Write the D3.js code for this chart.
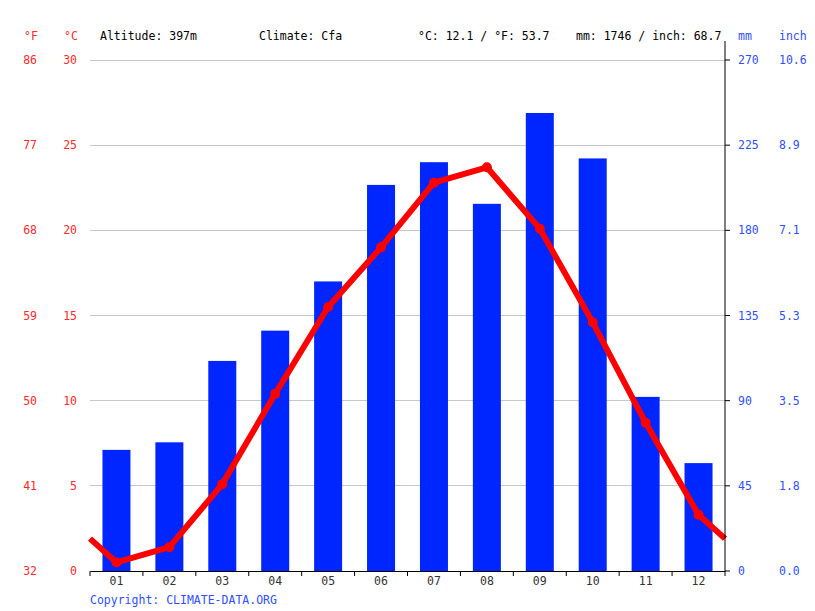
<!DOCTYPE html>
<html><head><meta charset="utf-8">
<script src="https://cdn.jsdelivr.net/npm/d3@7"></script>
<style>body{margin:0;background:#fff}svg text{font-family:"DejaVu Sans Mono",monospace;font-size:11.5px}</style>
</head><body><svg id="c" width="815" height="611"></svg>
<script>
const months = ["01","02","03","04","05","06","07","08","09","10","11","12"];
const precipMm = [64, 68, 111, 127, 153, 204, 216, 194, 242, 218, 92, 57];
const tempC = [0.5, 1.4, 5.1, 10.4, 15.5, 19.0, 22.8, 23.7, 20.1, 14.6, 8.7, 3.3];
const cTicks = [0,5,10,15,20,25,30];
const fTicks = [32,41,50,59,68,77,86];
const mmTicks = [0,45,90,135,180,225,270];
const inchTicks = ["0.0","1.8","3.5","5.3","7.1","8.9","10.6"];
const header = {alt:"Altitude: 397m", clim:"Climate: Cfa", tavg:"°C: 12.1 / °F: 53.7", prec:"mm: 1746 / inch: 68.7"};

const svg = d3.select("#c");
const L=90, R=725, T=60, B=571;
const x = d3.scaleBand().domain(months).range([L,R]);
const yC = d3.scaleLinear().domain([0,30]).range([B,T]);
const yMm = d3.scaleLinear().domain([0,270]).range([B,T]);
const red="#ff0000", blue="#0026ff", lblRed="#ff2a2a", lblBlue="#3050ff";

// grid
svg.append("g").selectAll("line").data(cTicks.slice(1)).join("line")
  .attr("x1",L).attr("x2",R).attr("y1",d=>yC(d)).attr("y2",d=>yC(d))
  .attr("stroke","#c8c8c8").attr("stroke-width",1).attr("shape-rendering","crispEdges");

// bars
const bw = 28;
svg.append("g").selectAll("rect").data(precipMm).join("rect")
  .attr("x",(d,i)=>x(months[i])+x.bandwidth()/2-bw/2).attr("width",bw)
  .attr("y",d=>yMm(d)).attr("height",d=>B-yMm(d)).attr("fill",blue);

// temp line with wrap-around edges
const edge = (tempC[0]+tempC[11])/2;
const pts = [[L,yC(edge)]].concat(tempC.map((t,i)=>[x(months[i])+x.bandwidth()/2,yC(t)])).concat([[R,yC(edge)]]);
svg.append("path").attr("d",d3.line()(pts)).attr("fill","none").attr("stroke",red)
  .attr("stroke-width",6).attr("stroke-linejoin","round");
svg.append("g").selectAll("circle").data(tempC).join("circle")
  .attr("cx",(d,i)=>x(months[i])+x.bandwidth()/2).attr("cy",d=>yC(d)).attr("r",5).attr("fill",red);

// bottom axis
const xb = svg.append("g").attr("transform",`translate(0,${B})`)
  .call(d3.axisBottom(x).tickSize(0).tickPadding(6));
xb.select(".domain").attr("stroke","#000");
xb.selectAll("text").attr("fill","#333").style("font-family","DejaVu Sans Mono").style("font-size","11.5px");
const bounds = d3.range(13).map(i=>L+i*x.step());
svg.append("g").selectAll("line").data(bounds).join("line")
  .attr("x1",d=>d).attr("x2",d=>d).attr("y1",B).attr("y2",B+5).attr("stroke","#000");

// right axis line
svg.append("line").attr("x1",R).attr("x2",R).attr("y1",41).attr("y2",B).attr("stroke","#000");
svg.append("g").selectAll("line").data(mmTicks).join("line")
  .attr("x1",R).attr("x2",R+5).attr("y1",d=>yMm(d)).attr("y2",d=>yMm(d)).attr("stroke","#000");

// tick labels
svg.append("g").selectAll("text").data(cTicks).join("text")
  .attr("x",77).attr("y",d=>yC(d)+4).attr("text-anchor","end").attr("fill",lblRed).text(d=>d);
svg.append("g").selectAll("text").data(fTicks).join("text")
  .attr("x",37).attr("y",(d,i)=>yC(cTicks[i])+4).attr("text-anchor","end").attr("fill",lblRed).text(d=>d);
svg.append("g").selectAll("text").data(mmTicks).join("text")
  .attr("x",738).attr("y",d=>yMm(d)+4).attr("fill",lblBlue).text(d=>d);
svg.append("g").selectAll("text").data(inchTicks).join("text")
  .attr("x",779).attr("y",(d,i)=>yMm(mmTicks[i])+4).attr("fill",lblBlue).text(d=>d);

// header
const hy=40;
svg.append("text").attr("x",24).attr("y",hy).attr("fill",lblRed).text("°F");
svg.append("text").attr("x",64).attr("y",hy).attr("fill",lblRed).text("°C");
svg.append("text").attr("x",100).attr("y",hy).attr("fill","#000").text(header.alt);
svg.append("text").attr("x",259).attr("y",hy).attr("fill","#000").text(header.clim);
svg.append("text").attr("x",418).attr("y",hy).attr("fill","#000").text(header.tavg);
svg.append("text").attr("x",576).attr("y",hy).attr("fill","#000").text(header.prec);
svg.append("text").attr("x",738).attr("y",hy).attr("fill",lblBlue).text("mm");
svg.append("text").attr("x",779).attr("y",hy).attr("fill",lblBlue).text("inch");

svg.append("text").attr("x",90).attr("y",604).attr("fill","#3050ff").text("Copyright: CLIMATE-DATA.ORG");
</script></body></html>
